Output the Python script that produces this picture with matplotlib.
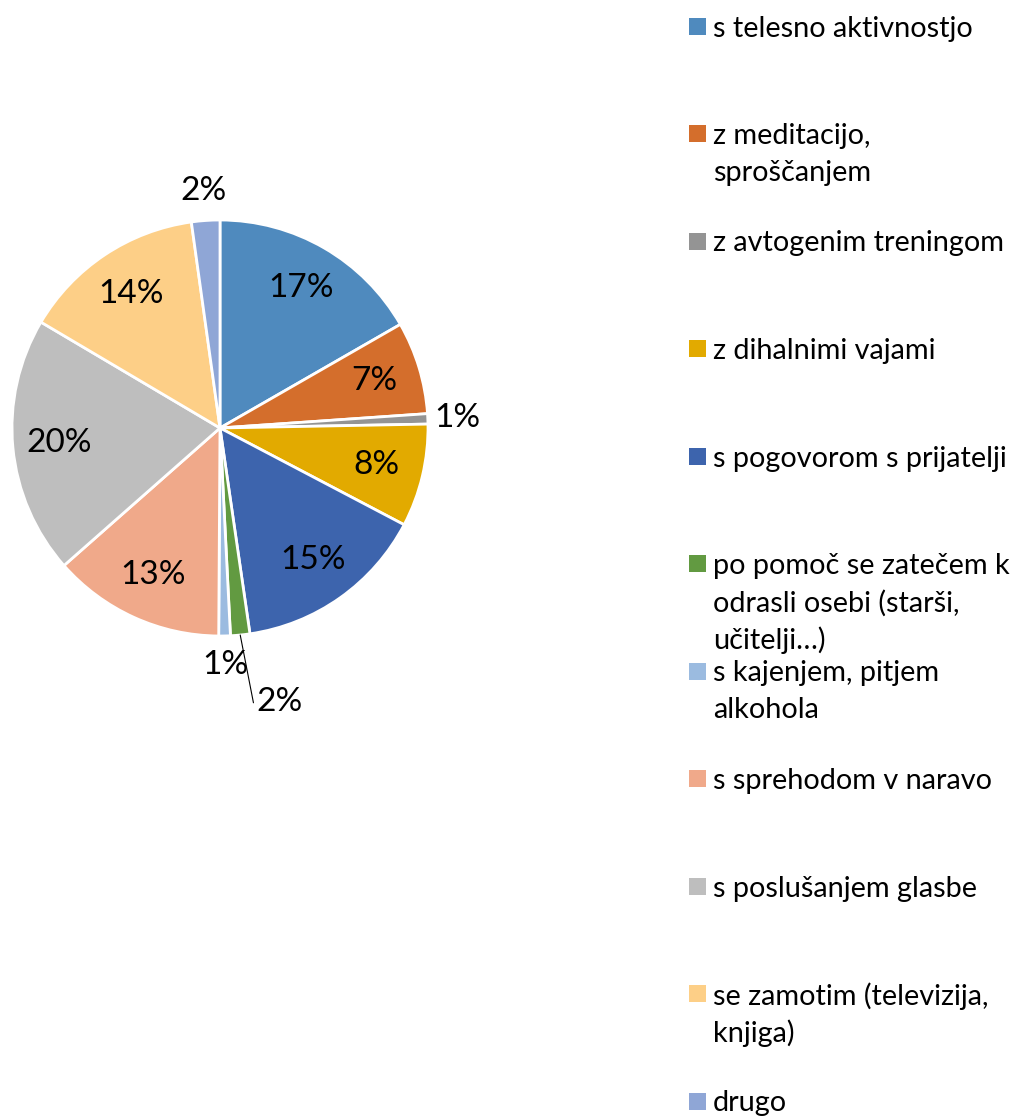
import matplotlib.pyplot as plt
import numpy as np

# shares (percent)
categories = [
    "s telesno aktivnostjo",
    "z meditacijo,\nsproščanjem",
    "z avtogenim treningom",
    "z dihalnimi vajami",
    "s pogovorom s prijatelji",
    "po pomoč se zatečem k\nodrasli osebi (starši,\nučitelji…)",
    "s kajenjem, pitjem\nalkohola",
    "s sprehodom v naravo",
    "s poslušanjem glasbe",
    "se zamotim (televizija,\nknjiga)",
    "drugo",
]
values = [16.7, 7.2, 0.8, 8.0, 15.0, 1.5, 0.9, 13.4, 20.0, 14.3, 2.2]
pct_labels = ["17%", "7%", "1%", "8%", "15%", "2%", "1%", "13%", "20%", "14%", "2%"]
colors = ["#4F8ABE", "#D46E2C", "#949494", "#E2AA00", "#3D64AD", "#629A41",
          "#9BBBE0", "#F0A98A", "#BEBEBE", "#FDCF87", "#8FA6D6"]

# where each label sits: inside, outside, or with a leader line
label_pos = ["in", "in", "out", "in", "in", "leader", "out", "in", "in", "in", "out"]

plt.rcParams['font.family'] = ['Lato', 'DejaVu Sans']

W, H = 1022, 1117
fig = plt.figure(figsize=(W / 100, H / 100), dpi=100)
ax = fig.add_axes([0, 0, 1, 1])

cx, cy, R = 220, H - 428, 208
wedges, _ = ax.pie(values, colors=colors, startangle=90, counterclock=False,
                   center=(cx, cy), radius=R, frame=True,
                   wedgeprops=dict(edgecolor='white', linewidth=2))
ax.set_xlim(0, W)
ax.set_ylim(0, H)
ax.set_aspect('equal')
ax.axis('off')

for w, lab, pos in zip(wedges, pct_labels, label_pos):
    mid = np.deg2rad((w.theta1 + w.theta2) / 2)
    if pos == "in":
        r = 0.775 * R
        ax.text(cx + r * np.cos(mid), cy + r * np.sin(mid), lab,
                ha='center', va='center', fontsize=24, color='black')
    elif pos == "out":
        r = 1.14 * R
        ax.text(cx + r * np.cos(mid), cy + r * np.sin(mid), lab,
                ha='center', va='center', fontsize=24, color='black')
    else:
        ex, ey = cx + R * np.cos(mid), cy + R * np.sin(mid)
        ax.annotate(lab, xy=(ex, ey), xytext=(ex + 16, ey - 67),
                    textcoords='data', ha='left', va='center', fontsize=24,
                    arrowprops=dict(arrowstyle='-', color='black', lw=0.8,
                                    shrinkA=0, shrinkB=0,
                                    relpos=(0, 0.0)))

# legend drawn by hand so the marker sits on the first line
row0, step, line_h = 26, 107.5, 37
for i, (name, col) in enumerate(zip(categories, colors)):
    y = H - (row0 + i * step)
    ax.add_patch(plt.Rectangle((689, y - 8.5), 17, 17, facecolor=col,
                               edgecolor='none'))
    for k, line in enumerate(name.split("\n")):
        ax.text(713, y - k * line_h, line, ha='left', va='center_baseline',
                fontsize=20.8, color='black')

fig.savefig("out.png", dpi=100)
